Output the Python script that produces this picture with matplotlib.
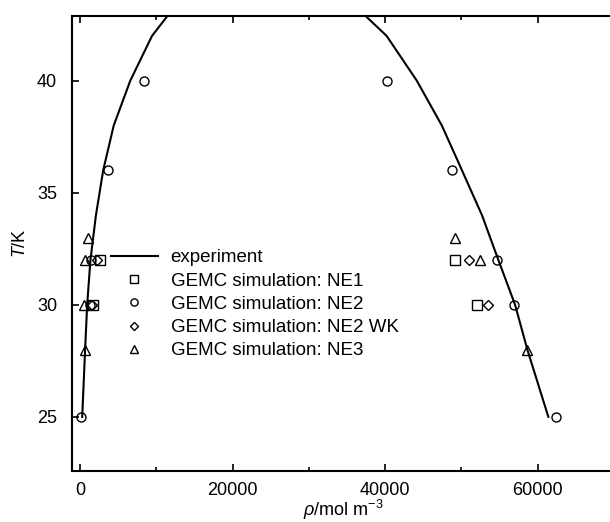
import numpy as np
import matplotlib
matplotlib.use('Agg')
import matplotlib.pyplot as plt
from matplotlib.lines import Line2D
from matplotlib.legend_handler import HandlerLine2D
from matplotlib.ticker import MultipleLocator

plt.rcParams['font.family'] = ['Liberation Sans', 'DejaVu Sans']
plt.rcParams['font.size'] = 13
plt.rcParams['mathtext.fontset'] = 'custom'
plt.rcParams['mathtext.it'] = 'Liberation Sans:italic'
plt.rcParams['mathtext.rm'] = 'Liberation Sans'

# experimental coexistence curve (liquid + vapour branch), T in K, rho in mol m^-3
exp_T   = [25, 28, 30, 32, 34, 36, 38, 40, 42, 44,
           44, 42, 40, 38, 36, 34, 32, 30, 28, 25]
exp_rho = [300, 680, 950, 1380, 2100, 3050, 4430, 6600, 9450, 14000,
           34000, 40200, 44160, 47440, 50080, 52700, 54850, 57040, 58650, 61400]

# GEMC simulations
ne1_T   = [32, 30, 32, 30]
ne1_rho = [2650, 1750, 49180, 52030]

ne2_T   = [25, 36, 40, 32, 30, 40, 36, 32, 30, 25]
ne2_rho = [150, 3690, 8360, 1400, 1300, 40310, 48790, 54640, 56950, 62410]

ne2wk_T   = [32, 30, 32, 30]
ne2wk_rho = [2250, 1550, 51010, 53470]

ne3_T   = [28, 30, 32, 33, 33, 32, 28]
ne3_rho = [720, 590, 650, 1020, 49180, 52450, 58570]


class RightMarker(HandlerLine2D):
    # put the legend marker at the right end of the key, like the original
    def get_xdata(self, legend, xdescent, ydescent, width, height, fontsize):
        xdata = np.array([-xdescent, -xdescent + width])
        return xdata, np.array([-xdescent + width])


fig = plt.figure(figsize=(6.10, 5.22), dpi=100)
ax = fig.add_axes([0.1185, 0.0983, 0.888, 0.8716])

mk = dict(linestyle='none', markerfacecolor='none', markeredgecolor='black',
          markeredgewidth=1.0, markersize=6.5, color='black')

ax.plot(exp_rho, exp_T, color='black', lw=1.5, label='experiment')
ax.plot(ne1_rho, ne1_T, marker='s', label='GEMC simulation: NE1', **mk)
ax.plot(ne2_rho, ne2_T, marker='o', label='GEMC simulation: NE2', **mk)
ax.plot(ne2wk_rho, ne2wk_T, marker='D', label='GEMC simulation: NE2 WK',
        **{**mk, 'markersize': 5.5})
ax.plot(ne3_rho, ne3_T, marker='^', label='GEMC simulation: NE3', **mk)

ax.set_xlim(-1000, 70000)
ax.set_ylim(22.6, 42.9)
ax.xaxis.set_major_locator(MultipleLocator(20000))
ax.xaxis.set_minor_locator(MultipleLocator(10000))
ax.yaxis.set_major_locator(MultipleLocator(5))
ax.tick_params(which='both', direction='in', top=True, right=False, width=1.2)
ax.tick_params(axis='x', pad=8)
ax.tick_params(axis='y', pad=11)
ax.tick_params(which='major', length=5)
ax.tick_params(which='minor', length=3)
for s in ax.spines.values():
    s.set_linewidth(1.5)
ax.spines['right'].set_visible(False)

ax.set_xlabel(r'$\mathit{\rho}$/mol m$^{-3}$', labelpad=-1)
ax.set_ylabel(r'$\mathit{T}$/K', labelpad=6)

ax.legend(handler_map={Line2D: RightMarker()}, loc='upper left',
          bbox_to_anchor=(0.071, 0.487), frameon=False, borderpad=0,
          borderaxespad=0, handlelength=2.5, handletextpad=0.7,
          labelspacing=0.33, markerscale=0.8, fontsize=13.5)

fig.savefig('out.png', dpi=100)
